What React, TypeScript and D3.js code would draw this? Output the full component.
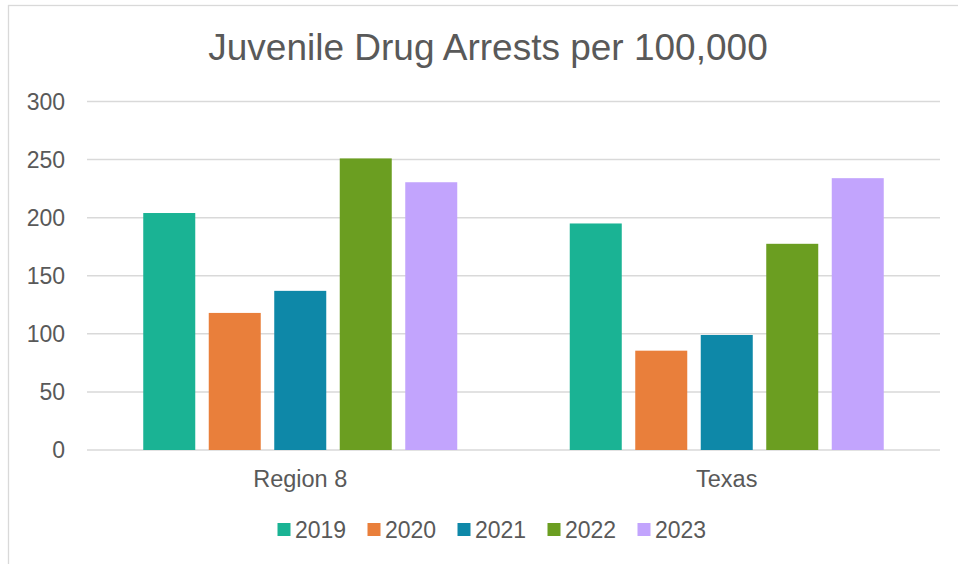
import React from "react";
import * as d3 from "d3";

const categories = ["Region 8", "Texas"];
const seriesNames = ["2019", "2020", "2021", "2022", "2023"];
const values2019 = [204, 195];
const values2020 = [118, 85.5];
const values2021 = [137, 99];
const values2022 = [251, 177.5];
const values2023 = [230.5, 234];
const seriesColors = ["#1ab394", "#e97f3b", "#0e88a8", "#6b9e21", "#c2a4fd"];
const yTicks = [0, 50, 100, 150, 200, 250, 300];
const title = "Juvenile Drug Arrests per 100,000";

const seriesValues = [values2019, values2020, values2021, values2022, values2023];

const W = 958;
const H = 564;
const left = 87;
const right = 940;
const top = 101.5;
const bottom = 450;
const textColor = "#595959";
const gridColor = "#d9d9d9";
const font = "'Liberation Sans', Arial, sans-serif";

export default function App() {
  const x0 = d3.scaleBand<string>().domain(categories).range([left, right]).paddingInner(0).paddingOuter(0);
  const y = d3.scaleLinear().domain([0, 300]).range([bottom, top]);
  const groupW = 314;
  const x1 = d3
    .scaleBand<string>()
    .domain(seriesNames)
    .range([0, groupW])
    .paddingInner(0.206)
    .paddingOuter(0);

  const legendStart = 277.5;
  const legendStep = 90;

  return (
    <svg
      width={W}
      height={H}
      style={{ position: "absolute", left: 0, top: 0, background: "#fff" }}
      fontFamily={font}
    >
      <rect x={8.5} y={5.5} width={W + 10} height={H + 10} fill="#fff" stroke={gridColor} strokeWidth={1.3} />
      <text x={488} y={59.5} textAnchor="middle" fontSize={37} fill={textColor}>
        {title}
      </text>
      {yTicks.map((t) => (
        <g key={t}>
          <line x1={left} x2={right} y1={y(t)} y2={y(t)} stroke={gridColor} strokeWidth={1.5} />
          <text x={65} y={y(t)} dy="0.36em" textAnchor="end" fontSize={23} fill={textColor}>
            {t}
          </text>
        </g>
      ))}
      {categories.map((c, ci) => {
        const gx = (x0(c) as number) + (x0.bandwidth() - groupW) / 2;
        return (
          <g key={c}>
            {seriesNames.map((s, si) => {
              const v = seriesValues[si][ci];
              return (
                <rect
                  key={s}
                  x={gx + (x1(s) as number)}
                  y={y(v)}
                  width={x1.bandwidth()}
                  height={y(0) - y(v)}
                  fill={seriesColors[si]}
                />
              );
            })}
            <text
              x={(x0(c) as number) + x0.bandwidth() / 2}
              y={487}
              textAnchor="middle"
              fontSize={23.5}
              fill={textColor}
            >
              {c}
            </text>
          </g>
        );
      })}
      {seriesNames.map((s, i) => (
        <g key={s} transform={`translate(${legendStart + i * legendStep},0)`}>
          <rect x={0} y={523} width={13} height={13} fill={seriesColors[i]} />
          <text x={17.5} y={538} fontSize={23} fill={textColor}>
            {s}
          </text>
        </g>
      ))}
    </svg>
  );
}
